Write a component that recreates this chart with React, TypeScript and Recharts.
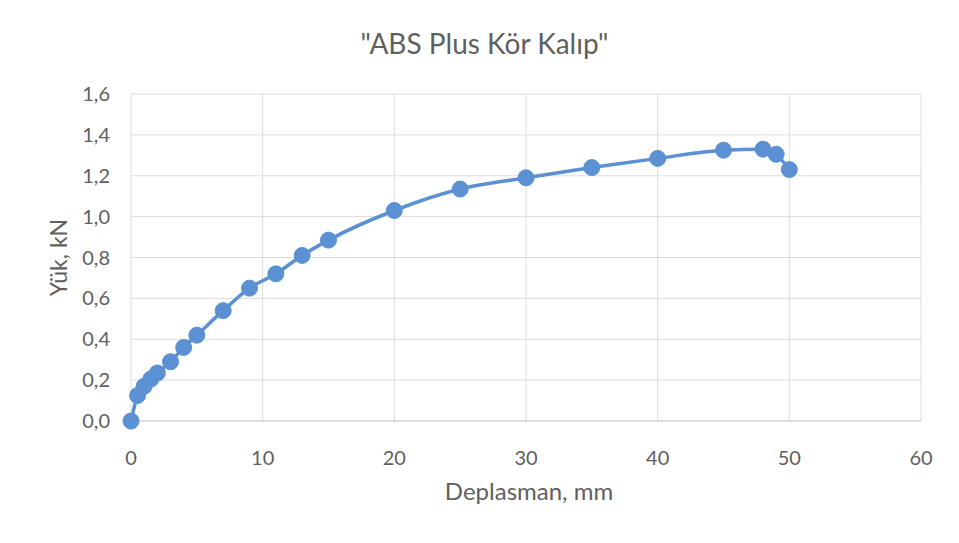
import { LineChart, Line, XAxis, YAxis, CartesianGrid, Label } from 'recharts';

const displacement = [0, 0.5, 1, 1.5, 2, 3, 4, 5, 7, 9, 11, 13, 15, 20, 25, 30, 35, 40, 45, 48, 49, 50];
const load = [0, 0.125, 0.17, 0.205, 0.235, 0.29, 0.36, 0.42, 0.54, 0.65, 0.72, 0.81, 0.885, 1.03, 1.135, 1.19, 1.24, 1.285, 1.325, 1.33, 1.305, 1.23];
const xTicks = [0, 10, 20, 30, 40, 50, 60];
const yTicks = [0, 0.2, 0.4, 0.6, 0.8, 1.0, 1.2, 1.4, 1.6];

const data = displacement.map((d, i) => ({ x: d, y: load[i] }));

const BLUE = '#5b91d2';
const TEXT = '#5f5f5f';
const FONT = 'Lato, "Open Sans", sans-serif';

export default function App() {
  return (
    <div style={{ position: 'fixed', left: 0, top: 0, width: 959, height: 543, background: '#fff', fontFamily: FONT }}>
      <div style={{ position: 'absolute', left: 0, width: 959, top: 26, textAlign: 'center', paddingLeft: 10, boxSizing: 'border-box', fontSize: 28, lineHeight: '34px', color: TEXT }}>
        "ABS Plus Kör Kalıp"
      </div>
      <LineChart width={959} height={543} data={data} margin={{ top: 94, right: 38, bottom: 92, left: 71 }}>
        <CartesianGrid stroke="#dcdcdc" strokeWidth={1} />
        <XAxis
          dataKey="x"
          type="number"
          domain={[0, 60]}
          ticks={xTicks}
          height={30}
          axisLine={{ stroke: '#cfcfcf' }}
          tickLine={false}
          tickMargin={20}
          tick={{ fill: TEXT, fontSize: 20, fontFamily: FONT, dy: 4 }}
        >
          <Label value="Deplasman, mm" position="insideBottom" offset={-49} dx={3} fill={TEXT} fontSize={24} fontFamily={FONT} />
        </XAxis>
        <YAxis
          type="number"
          domain={[0, 1.6]}
          ticks={yTicks}
          width={60}
          axisLine={false}
          tickLine={false}
          tickMargin={15}
          tickFormatter={(v: number) => v.toFixed(1).replace('.', ',')}
          tick={{ fill: TEXT, fontSize: 20, fontFamily: FONT }}
        >
          <Label value="Yük, kN" angle={-90} position="insideLeft" offset={-12} fill={TEXT} fontSize={23} fontFamily={FONT} style={{ textAnchor: 'middle' }} />
        </YAxis>
        <Line
          type="monotone"
          dataKey="y"
          stroke={BLUE}
          strokeWidth={3.5}
          dot={{ r: 8, fill: BLUE, stroke: BLUE, strokeWidth: 1 }}
          isAnimationActive={false}
        />
      </LineChart>
    </div>
  );
}
